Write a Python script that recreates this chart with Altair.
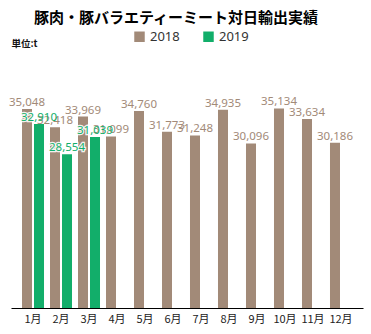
import altair as alt
import pandas as pd

months = ["1月", "2月", "3月", "4月", "5月", "6月", "7月", "8月", "9月", "10月", "11月", "12月"]
v2018 = [35048, 32418, 33969, 31099, 34760, 31773, 31248, 34935, 30096, 35134, 33634, 30186]
v2019 = [32910, 28554, 31039]
years = ["2018", "2019"]
colors = ["#a28a78", "#12ae6a"]
y_domain = [6400, 42112]

rows = []
for m, v in zip(months, v2018):
    rows.append({"month": m, "year": "2018", "value": v})
for m, v in zip(months, v2019):
    rows.append({"month": m, "year": "2019", "value": v})
df = pd.DataFrame(rows)

FONT = "Noto Sans CJK JP"

x = alt.X("month:N", sort=months,
          scale=alt.Scale(paddingInner=0.214, paddingOuter=0.393),
          axis=alt.Axis(title=None, labelAngle=0, ticks=False, domainColor="#000000",
                        domainWidth=1.2, labelFont=FONT, labelFontSize=11,
                        labelColor="#222222", labelPadding=5))
xo = alt.XOffset("year:N", scale=alt.Scale(domain=years, paddingInner=1/6, paddingOuter=0))
y = alt.Y("value:Q",
          scale=alt.Scale(domain=y_domain, nice=False, zero=False),
          axis=alt.Axis(labels=False, ticks=False, domain=False, grid=False,
                        title="単位:t", titleAngle=0, titleAlign="left", titleX=0, titleY=-17,
                        titleBaseline="middle", titleFont=FONT, titleFontSize=9.5,
                        titleFontWeight="bold", titleColor="#111111"))
color = alt.Color("year:N", scale=alt.Scale(domain=years, range=colors),
                  legend=alt.Legend(title=None, orient="none", direction="horizontal",
                                    legendX=122, legendY=-30, symbolType="square",
                                    symbolSize=110, symbolStrokeWidth=0, labelFont="Noto Sans",
                                    labelFontSize=13, labelColor="#333333", columnPadding=22,
                                    symbolOpacity=1))

bars = alt.Chart(df).mark_bar(opacity=1).encode(
    x=x, xOffset=xo, y=y, y2=alt.datum(y_domain[0]), color=color)

text_enc = dict(x=x, xOffset=xo, y=y, text=alt.Text("value:Q", format=","))

halo = alt.Chart(df).transform_filter(alt.datum.year == "2019").mark_text(
    baseline="bottom", dy=-1, font="Noto Sans", fontSize=11.5,
    stroke="#ffffff", strokeWidth=2.5, strokeOpacity=0.9, color="#ffffff").encode(**text_enc)

labels = alt.Chart(df).mark_text(baseline="bottom", dy=-1, font="Noto Sans", fontSize=11.5).encode(
    **text_enc,
    color=alt.Color("year:N", scale=alt.Scale(domain=years, range=colors), legend=None))

chart = alt.layer(bars, halo, labels).properties(
    width=352, height=248,
    title=alt.Title("豚肉・豚バラエティーミート対日輸出実績", font=FONT, fontSize=15,
                    fontWeight="bold", color="#000000", anchor="middle", dx=-11),
    autosize=alt.AutoSizeParams(type="none"),
    padding={"left": 11, "top": 60, "right": 8, "bottom": 26},
).configure_view(stroke=None)

chart.save("out.html", embed_options={"renderer": "svg", "actions": False})
